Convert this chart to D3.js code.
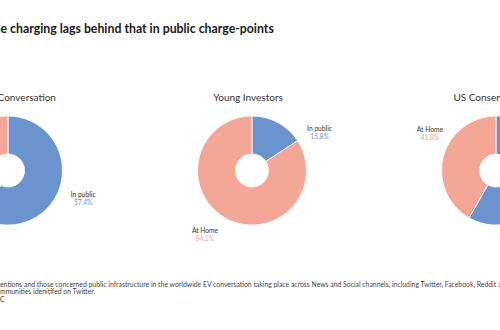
<!DOCTYPE html>
<html>
<head>
<meta charset="utf-8">
<script src="https://cdn.jsdelivr.net/npm/d3@7"></script>
<style>
  html, body { margin: 0; padding: 0; background: #ffffff; overflow: hidden; }
  svg { display: block; }
  text { font-family: Lato, "Open Sans", sans-serif; }
</style>
</head>
<body>
<svg id="chart" width="500" height="330"></svg>
<script>
// ---- data ----
const chartTitles = ["Global EV Conversation", "Young Investors", "US Conservatives"];
const categories = ["In public", "At Home"];
const inPublic = [57.4, 15.8, 58.2];
const atHome = [42.6, 84.2, 41.8];
const mainTitle = "Home charging lags behind that in public charge-points";
const noteLines = [
  "Note: Share of at-home charging mentions and those concerned public infrastructure in the worldwide EV conversation taking place across News and Social channels, including Twitter, Facebook, Reddit and forums, and within the co",
  "mmunities idenitifed on Twitter.",
  "Source: C"
];

// ---- layout ----
const W = 500, H = 330;
const colors = { "In public": "#6b94cf", "At Home": "#f4a797" };
const outerR = 54.5, innerR = 16.5, cy = 170.5;
// label placement (angle in degrees clockwise from top, radius from centre)
const labelPlace = [
  [{ a: 110, r: 80 }, { a: 284, r: 80 }],
  [{ a: 60, r: 78 }, { a: 216.5, r: 79 }],
  [{ a: 105, r: 80 }, { a: 299.6, r: 76 }]
];

const svg = d3.select("#chart");

// main title, cropped on the left as in the reference
const t = svg.append("text")
  .attr("y", 32.5)
  .attr("font-size", 12.3)
  .attr("font-weight", 700)
  .attr("fill", "#1a1a1a")
  .text(mainTitle);
t.attr("x", -t.node().getSubStringLength(0, 3) + 0.5);

const x = d3.scalePoint().domain(chartTitles).range([8, 496]);
const pie = d3.pie().sort(null).value(d => d.value);
const arc = d3.arc().innerRadius(innerR).outerRadius(outerR);

chartTitles.forEach((name, i) => {
  const data = categories.map((c, k) => ({ cat: c, value: [inPublic, atHome][k][i] }));
  const cx = x(name);
  const g = svg.append("g").attr("transform", `translate(${cx},${cy})`);

  svg.append("text")
    .attr("x", cx - 4)
    .attr("y", 100.5)
    .attr("text-anchor", "middle")
    .attr("font-size", 10)
    .attr("fill", "#333")
    .text(name);

  g.selectAll("path")
    .data(pie(data))
    .join("path")
    .attr("d", arc)
    .attr("fill", d => colors[d.data.cat])
    .attr("stroke", "#ffffff")
    .attr("stroke-width", 0.8);

  pie(data).forEach((d, k) => {
    const p = labelPlace[i][k];
    const ang = p.a * Math.PI / 180;
    const lx = Math.sin(ang) * p.r, ly = -Math.cos(ang) * p.r;
    // labels that fall entirely outside the cropped view are not drawn
    if (cx + lx < -20 || cx + lx > W + 20) return;
    const lab = g.append("text")
      .attr("text-anchor", "middle")
      .attr("font-size", 6.7);
    lab.append("tspan")
      .attr("x", lx).attr("y", ly - 1)
      .attr("fill", "#333")
      .text(d.data.cat);
    lab.append("tspan")
      .attr("x", lx).attr("y", ly + 7)
      .attr("fill", colors[d.data.cat])
      .text(d3.format(".1f")(d.data.value) + "%");
  });
});

// footnote, cropped on the left
const noteY = [286.5, 294, 301.5];
noteLines.forEach((line, i) => {
  const n = svg.append("text")
    .attr("y", noteY[i])
    .attr("font-size", 6.85)
    .attr("fill", "#444")
    .text(line);
  const cut = [line.indexOf("entions"), line.indexOf("mmunities"), line.lastIndexOf("C")][i];
  const off = cut > 0 ? n.node().getSubStringLength(0, cut) : 0;
  n.attr("x", -off);
});
</script>
</body>
</html>
